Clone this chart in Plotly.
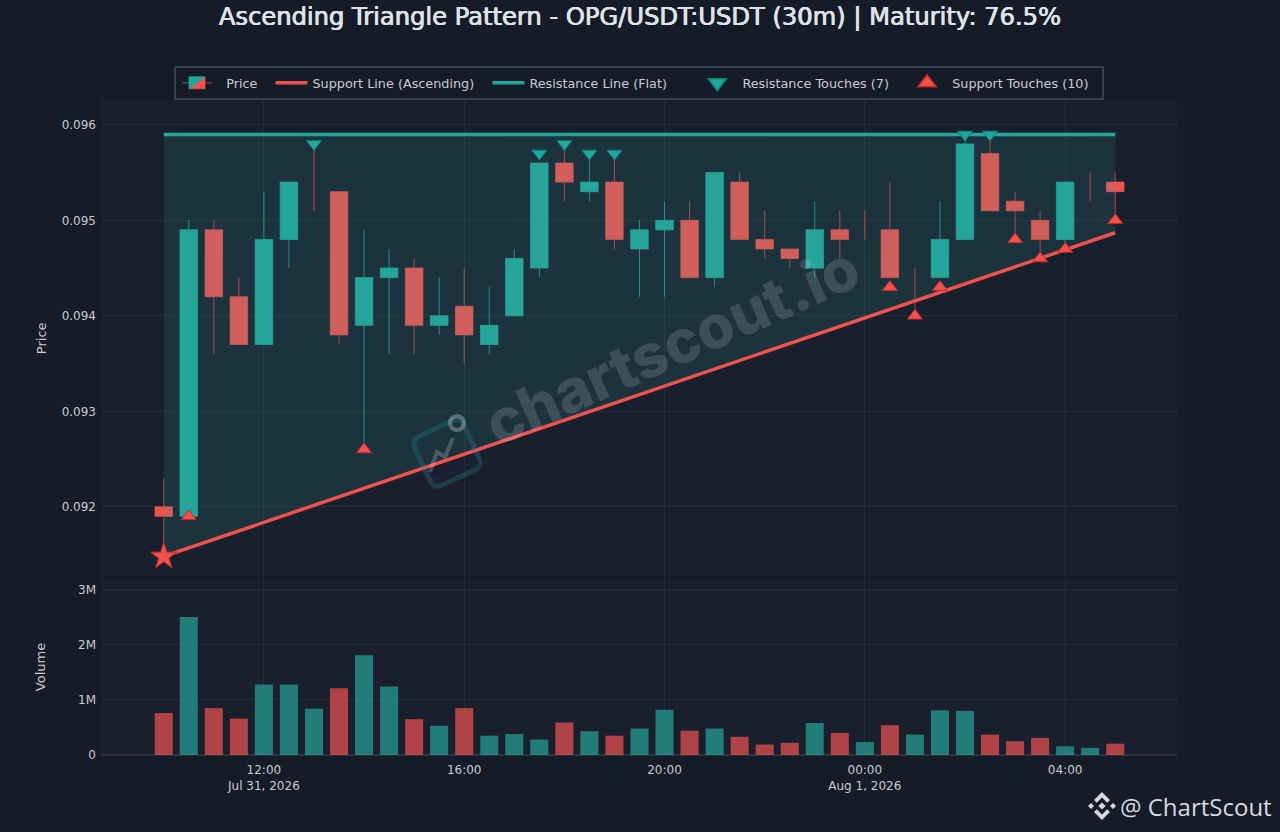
import math
import pandas as pd
import plotly.graph_objects as go
from plotly.subplots import make_subplots

times = list(pd.date_range("2026-07-31 10:00", periods=39, freq="30min"))

opens = [.0920,.0919,.0949,.0942,.0937,.0948,.0953,.0953,.0939,.0944,.0945,.0939,.0941,.0937,.0940,.0945,.0956,.0953,.0954,.0947,.0949,
         .0950,.0944,.0954,.0948,.0947,.0945,.0949,.0949,.0949,.0942,.0944,.0948,.0957,.0952,.0950,.0948,.0953,.0954]
highs = [.0923,.0950,.0950,.0944,.0953,.0954,.0958,.0953,.0949,.0947,.0946,.0944,.0945,.0943,.0947,.0956,.0958,.0957,.0957,.0950,.0952,
         .0952,.0955,.0955,.0951,.0947,.0952,.0951,.0951,.0954,.0945,.0952,.0959,.0959,.0953,.0951,.0954,.0955,.0955]
lows = [.0915,.0919,.0936,.0937,.0937,.0945,.0951,.0937,.0926,.0936,.0936,.0938,.0935,.0936,.0940,.0944,.0952,.0952,.0947,.0942,.0942,
        .0944,.0943,.0948,.0946,.0945,.0944,.0946,.0948,.0944,.0940,.0944,.0948,.0951,.0948,.0946,.0947,.0952,.0950]
closes = [.0919,.0949,.0942,.0937,.0948,.0954,.0953,.0938,.0944,.0945,.0939,.0940,.0938,.0939,.0946,.0956,.0954,.0954,.0948,.0949,.0950,
          .0944,.0955,.0948,.0947,.0946,.0949,.0948,.0949,.0944,.0942,.0948,.0958,.0951,.0951,.0948,.0954,.0953,.0953]
volumes = [.76,2.5,.85,.66,1.28,1.28,.84,1.21,1.81,1.24,.65,.53,.85,.35,.38,.28,.59,.43,.35,.48,.82,
           .44,.48,.33,.19,.22,.58,.40,.235,.54,.37,.81,.80,.37,.25,.31,.157,.13,.205]
volume_up = [0,1,0,0,1,1,1,0,1,1,0,1,0,1,1,1,0,1,0,1,1,0,1,0,0,0,1,0,1,0,1,1,1,0,0,0,1,1,0]

resistance_level = 0.0959
support_start, support_end = 0.09148, 0.09487
resistance_idx = [6,15,16,17,18,32,33]
resistance_vals = [.0958,.0957,.0958,.0957,.0957,.0959,.0959]
support_idx = [1,8,29,30,31,34,35,36,38]
support_vals = [.0919,.0926,.0943,.0940,.0943,.0948,.0946,.0947,.0950]
pivot_val = 0.09148

title = "Ascending Triangle Pattern - OPG/USDT:USDT (30m) | Maturity: 76.5%"
GREEN, RED = "#26a69a", "#ef5350"
PAPER, PLOT = "#151b27", "#1a1f2d"
TXT = "#c9ccd4"
GRID = "rgba(255,255,255,0.055)"
FONT = "DejaVu Sans"
W, H = 1280, 832
L, R, T, B = 101, 1177, 100, 755
NB = "\u00a0"

fig = make_subplots(rows=2, cols=1, shared_xaxes=True, vertical_spacing=0)
t0, t1 = times[0], times[-1]
body = [i for i in range(len(times)) if opens[i] != closes[i]]
doji = [i for i in range(len(times)) if opens[i] == closes[i]]
doji_x, doji_y = [], []
for i in doji:
    doji_x += [times[i], times[i], None]
    doji_y += [lows[i], highs[i], None]

fig.add_trace(go.Scatter(x=[t0,t1,t1,t0,t0], y=[resistance_level,resistance_level,support_end,support_start,resistance_level],
    mode="lines", fill="toself", fillcolor="rgba(38,166,154,0.15)", line=dict(width=0), showlegend=False, hoverinfo="skip"), 1, 1)
fig.add_trace(go.Candlestick(x=[times[i] for i in body], open=[opens[i] for i in body], high=[highs[i] for i in body],
    low=[lows[i] for i in body], close=[closes[i] for i in body], name=NB*2 + "Price" + NB*2,
    increasing=dict(line=dict(color="rgba(38,166,154,0.8)", width=1), fillcolor=GREEN),
    decreasing=dict(line=dict(color="rgba(239,83,80,0.7)", width=1), fillcolor=RED)), 1, 1)
fig.add_trace(go.Scatter(x=doji_x, y=doji_y, mode="lines", showlegend=False, opacity=0.7, line=dict(color=RED, width=1)), 1, 1)
fig.add_trace(go.Scatter(x=[t0,t1], y=[support_start,support_end], mode="lines", name="Support Line (Ascending)" + NB*2,
    line=dict(color=RED, width=3.5)), 1, 1)
fig.add_trace(go.Scatter(x=[t0,t1], y=[resistance_level,resistance_level], mode="lines", name="Resistance Line (Flat)" + NB*6,
    line=dict(color=GREEN, width=3.5)), 1, 1)
fig.add_trace(go.Scatter(x=[times[i] for i in resistance_idx], y=resistance_vals, mode="markers", showlegend=False,
    marker=dict(symbol="triangle-down", size=13, color=GREEN, line=dict(color="#00897b", width=1))), 1, 1)
fig.add_trace(go.Scatter(x=[times[i] for i in support_idx], y=support_vals, mode="markers", showlegend=False,
    marker=dict(symbol="triangle-up", size=13, color=RED, line=dict(color="#c62828", width=1))), 1, 1)
fig.add_trace(go.Scatter(x=[t0], y=[pivot_val], mode="markers", showlegend=False,
    marker=dict(symbol="star", size=20, color=RED, line=dict(color="#c62828", width=1))), 1, 1)
fig.add_trace(go.Scatter(x=[None], y=[None], mode="markers", name=NB + "Resistance Touches (7)" + NB*3,
    marker=dict(symbol="triangle-down", size=16, color=GREEN, line=dict(color="#00897b", width=1.5))), 1, 1)
fig.add_trace(go.Scatter(x=[None], y=[None], mode="markers", name=NB + "Support Touches (10)" + NB*2,
    marker=dict(symbol="triangle-up", size=16, color=RED, line=dict(color="#c62828", width=1.5))), 1, 1)
fig.add_trace(go.Bar(x=times, y=[v * 1e6 for v in volumes], showlegend=False, opacity=0.7,
    marker=dict(color=[GREEN if u else RED for u in volume_up], line=dict(width=0))), 2, 1)

def px(x, y):
    return (x - L) / (R - L), (B - y) / (B - T)

def rotated(pts, cx, cy, deg):
    a = math.radians(deg)
    return [(cx + x * math.cos(a) - y * math.sin(a), cy + x * math.sin(a) + y * math.cos(a)) for x, y in pts]

def path(pts, close=True):
    s = ""
    for k, (x, y) in enumerate(pts):
        u, v = px(x, y)
        s += ("M" if k == 0 else "L") + f"{u:.5f},{v:.5f} "
    return s + ("Z" if close else "")

shapes = []
def shp(d, line=None, lw=0, fill=None):
    shapes.append(dict(type="path", path=d, xref="paper", yref="paper", layer="above",
                       line=dict(color=line or "rgba(0,0,0,0)", width=lw), fillcolor=fill or "rgba(0,0,0,0)"))

# watermark logo
cx, cy, ang = 447, 453, -25
r, c = 27, 7
rr = [(-r+c,-r),(r-c,-r),(r-c*.3,-r+c*.3),(r,-r+c),(r,r-c),(r-c*.3,r-c*.3),(r-c,r),(-r+c,r),(-r+c*.3,r-c*.3),(-r,r-c),(-r,-r+c),(-r+c*.3,-r+c*.3)]
shp(path(rotated(rr, cx, cy, ang)), line="rgba(45,130,150,0.30)", lw=5)
shp(path([(430,472),(437,452),(445,457),(453,438)], False), line="rgba(255,255,255,0.20)", lw=4)
shp(path([(433,480),(475,462)], False), line="rgba(20,40,60,0.55)", lw=4)
circ = [(457 + 7*math.cos(k*math.pi/8), 423 + 7*math.sin(k*math.pi/8)) for k in range(16)]
shp(path(circ), line="rgba(255,255,255,0.28)", lw=4)

# exchange logo
bx, by = 1102, 806
LOGO = "#d7dae0"
def bl(pts):
    shp(path([(bx+x, by+y) for x, y in pts]), fill=LOGO)
bl([(0,-14),(8,-6),(5.2,-3.2),(0,-8.4),(-5.2,-3.2),(-8,-6)])
bl([(0,14),(8,6),(5.2,3.2),(0,8.4),(-5.2,3.2),(-8,6)])
bl([(0,-3.6),(3.6,0),(0,3.6),(-3.6,0)])
bl([(-14,0),(-11,-3),(-8,0),(-11,3)])
bl([(14,0),(11,-3),(8,0),(11,3)])

wx, wy = px(672, 345)
lx, ly = px(1118, 806)
annotations = [
    dict(text="chartscout.io", x=wx, y=wy, xref="paper", yref="paper", showarrow=False, textangle=-24,
         xanchor="center", yanchor="middle", font=dict(family="Inter", size=60, color="rgba(255,255,255,0.14)", weight=800)),
    dict(text="@ ChartScout", x=lx, y=ly, xref="paper", yref="paper", showarrow=False,
         xanchor="left", yanchor="middle", font=dict(family="Open Sans", size=24, color=LOGO)),
]
leg_x, leg_y = px(174, 66)
fig.update_layout(
    width=W, height=H, margin=dict(l=L, r=W-R, t=T, b=H-B, autoexpand=False),
    paper_bgcolor=PAPER, plot_bgcolor=PLOT, font=dict(family=FONT, size=12, color=TXT),
    title=dict(text=title, x=0.5, xref="container", xanchor="center", y=1-17/H, yanchor="middle",
               font=dict(family=FONT, size=24.2, color="#dfe2e7", shadow="0.4px 0 0 #dfe2e7, -0.4px 0 0 #dfe2e7")),
    legend=dict(orientation="h", x=leg_x, xanchor="left", y=leg_y, yanchor="top", itemwidth=32,
                bgcolor=PAPER, bordercolor="#3a3f4d", borderwidth=2, font=dict(size=12.8, color=TXT)),
    bargap=0.28, boxgap=0.3, boxgroupgap=0, shapes=shapes, annotations=annotations, showlegend=True,
)
xr = ["2026-07-31 08:44:50", "2026-08-01 06:14:00"]
for row in (1, 2):
    fig.update_xaxes(row=row, col=1, range=xr, showgrid=True, gridcolor=GRID, zeroline=False, showline=False,
                     rangeslider=dict(visible=False), tick0="2026-07-31 00:00", dtick=4*3600000, ticks="", ticklabelstandoff=6)
fig.update_yaxes(row=1, col=1, domain=[0.2725, 1], range=[0.09127, 0.09626], tickvals=[.092,.093,.094,.095,.096],
                 tickformat=".3f", gridcolor=GRID, zeroline=False, ticklabelstandoff=4, title=dict(text="Price", standoff=12, font=dict(size=13)))
fig.update_yaxes(row=2, col=1, domain=[0, 0.2687], range=[0, 3.19e6], tickvals=[0,1e6,2e6,3e6], ticktext=["0","1M","2M","3M"],
                 gridcolor=GRID, zeroline=True, zerolinecolor="rgba(255,255,255,0.1)", ticklabelstandoff=4, title=dict(text="Volume", standoff=29, font=dict(size=13)))

fig.write_html("out.html", config=dict(displayModeBar=False),
               post_script="document.body.style.margin='0';document.body.style.background='#151b27';")
